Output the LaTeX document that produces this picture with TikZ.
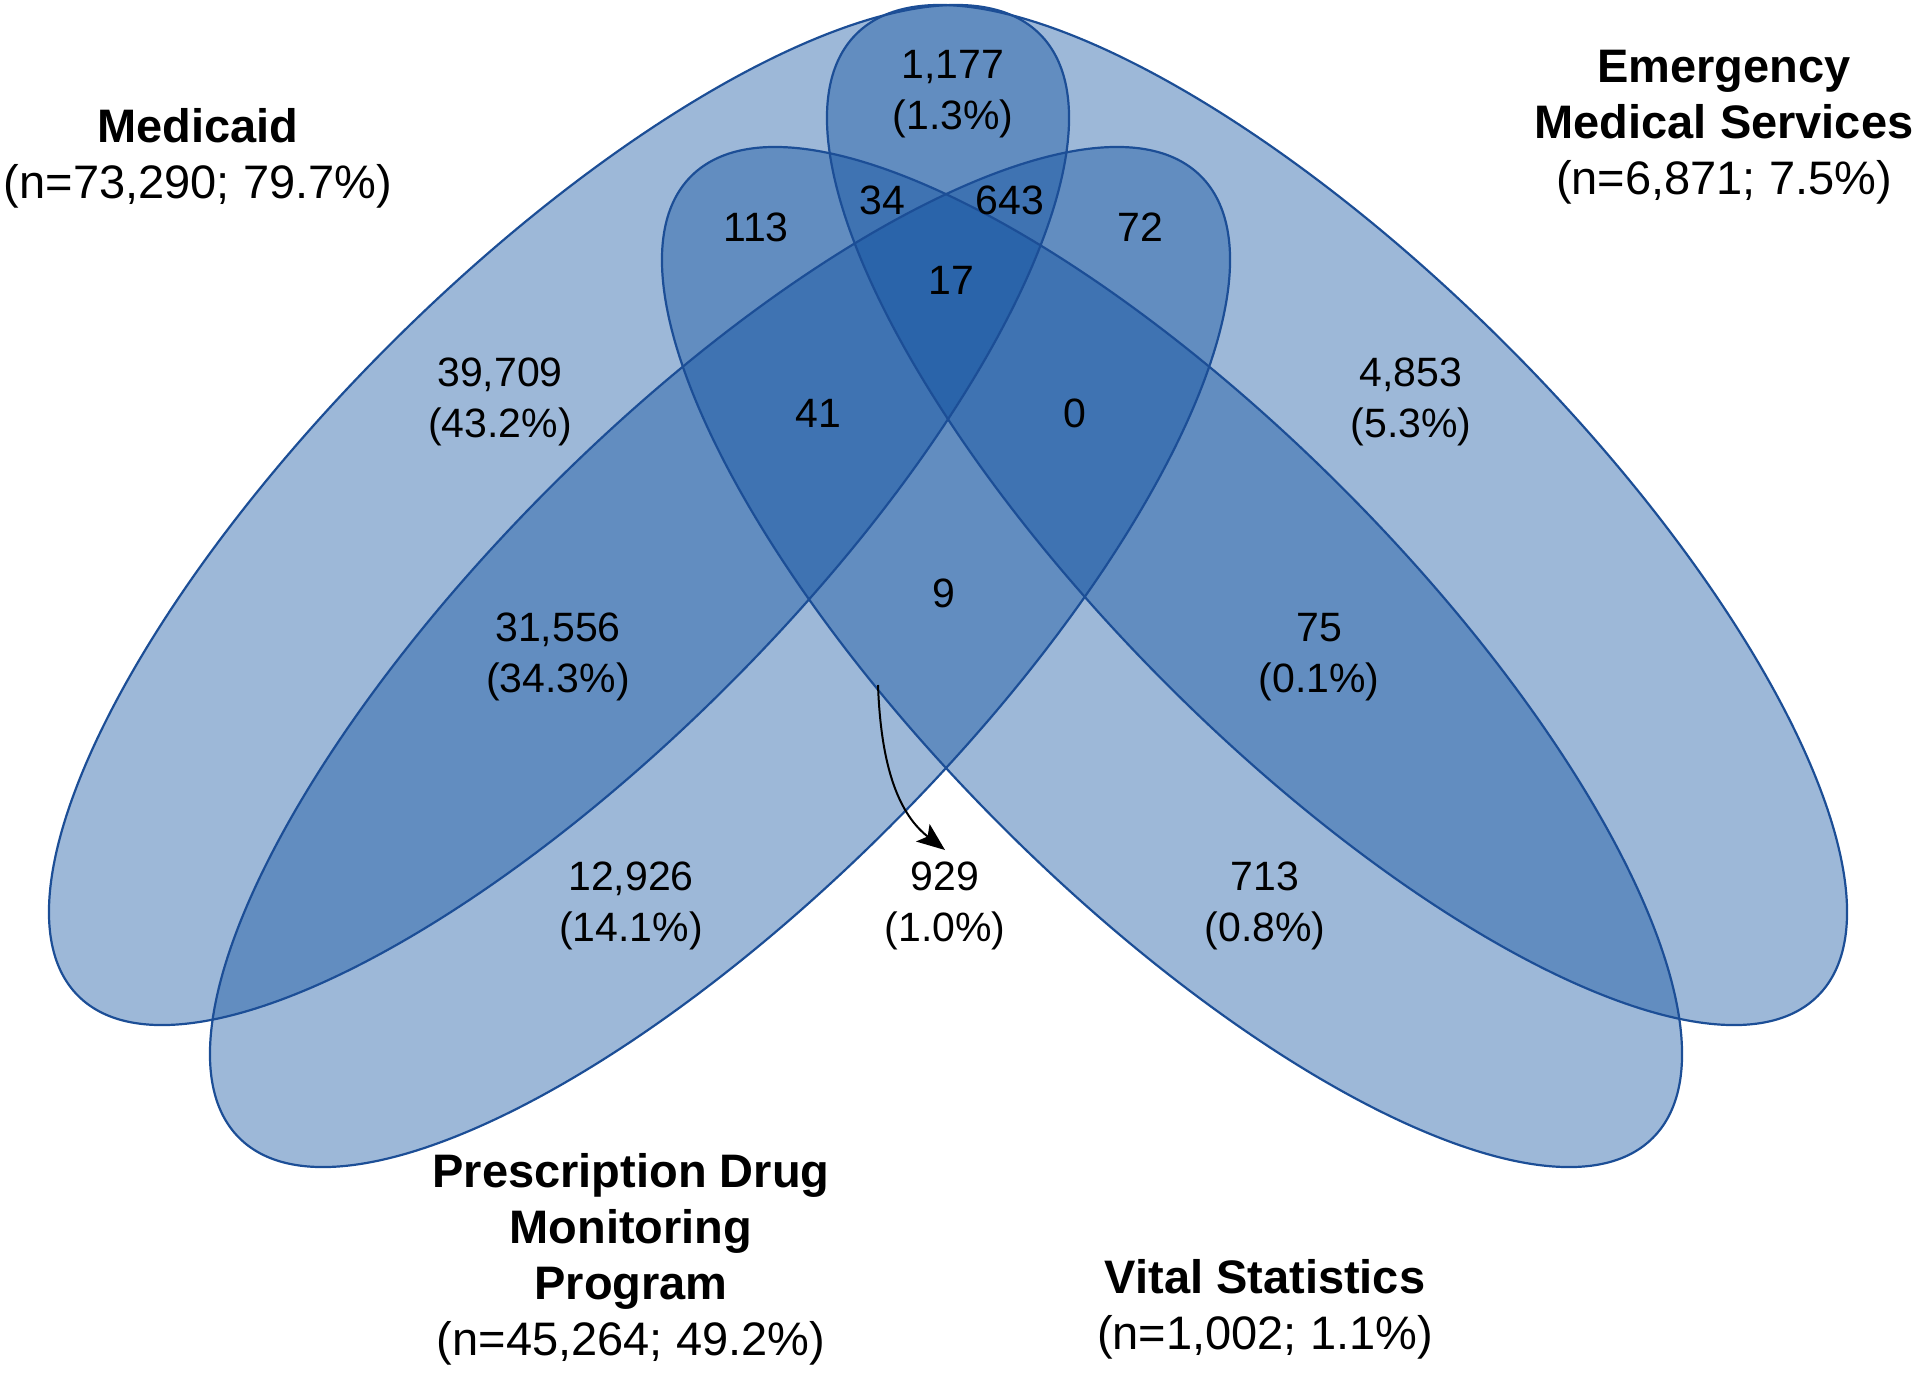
\documentclass[tikz,border=0pt]{standalone}
\usepackage{fontspec}
\setmainfont{Liberation Sans}
\usetikzlibrary{arrows.meta}
\definecolor{vfill}{RGB}{10,77,157}
\definecolor{vline}{RGB}{28,78,150}
\begin{document}
\begin{tikzpicture}[x=0.5pt,y=-0.5pt,
  setfill/.style={fill=vfill, fill opacity=0.4},
  setline/.style={draw=vline, line width=1.1pt},
  num/.style={font=\fontsize{20.5pt}{25.3pt}\selectfont, align=center, inner sep=0pt},
  setlabel/.style={font=\fontsize{23.5pt}{28pt}\selectfont, align=center, inner sep=0pt},
  pointer/.style={-{Stealth[length=14pt,width=11pt,inset=3pt]}, line width=1pt, black}
]
\useasboundingbox (0,0) rectangle (1920,1372);
\coordinate (cM) at (559,515);
\coordinate (cE) at (1337,515);
\coordinate (cP) at (720,657);
\coordinate (cV) at (1172,657);
% fills
\foreach \c/\a in {cM/45,cE/-45,cP/45,cV/-45}
  \fill[setfill, rotate around={\a:(\c)}] (\c) ellipse [x radius=340pt, y radius=120pt];
% outlines
\foreach \c/\a in {cM/45,cE/-45,cP/45,cV/-45}
  \draw[setline, rotate around={\a:(\c)}] (\c) ellipse [x radius=340pt, y radius=120pt];
% set labels
\node[setlabel] (lM) at (198,158) {{\bfseries Medicaid}\\(n=73,290; 79.7\%)};
\node[setlabel] (lE) at (1724,127) {{\bfseries Emergency}\\{\bfseries Medical Services}\\(n=6,871; 7.5\%)};
\node[setlabel] (lP) at (631,1259) {{\bfseries Prescription Drug}\\{\bfseries Monitoring}\\{\bfseries Program}\\(n=45,264; 49.2\%)};
\node[setlabel] (lV) at (1265,1309) {{\bfseries Vital Statistics}\\(n=1,002; 1.1\%)};
% region counts
\node[num] (rME) at (953,94) {1,177\\(1.3\%)};
\node[num] (rMV) at (756,227) {113};
\node[num] (rMEV) at (882,200) {34};
\node[num] (rMEP) at (1010,200) {643};
\node[num] (rEP) at (1140,227) {72};
\node[num] (rAll) at (951,280) {17};
\node[num] (rM) at (500,402) {39,709\\(43.2\%)};
\node[num] (rE) at (1411,402) {4,853\\(5.3\%)};
\node[num] (rMPV) at (818,413) {41};
\node[num] (rEPV) at (1075,413) {0};
\node[num] (rPV) at (944,593) {9};
\node[num] (rMP) at (558,657) {31,556\\(34.3\%)};
\node[num] (rEV) at (1319,657) {75\\(0.1\%)};
\node[num] (rP) at (631,906) {12,926\\(14.1\%)};
\node[num] (rN) at (945,906) {929\\(1.0\%)};
\node[num] (rV) at (1265,906) {713\\(0.8\%)};
% pointer
\coordinate (aS) at (878,685);
\coordinate (aE) at (945,850);
\draw[pointer] (aS) .. controls (881,770) and (900,815) .. (aE);
\end{tikzpicture}
\end{document}
